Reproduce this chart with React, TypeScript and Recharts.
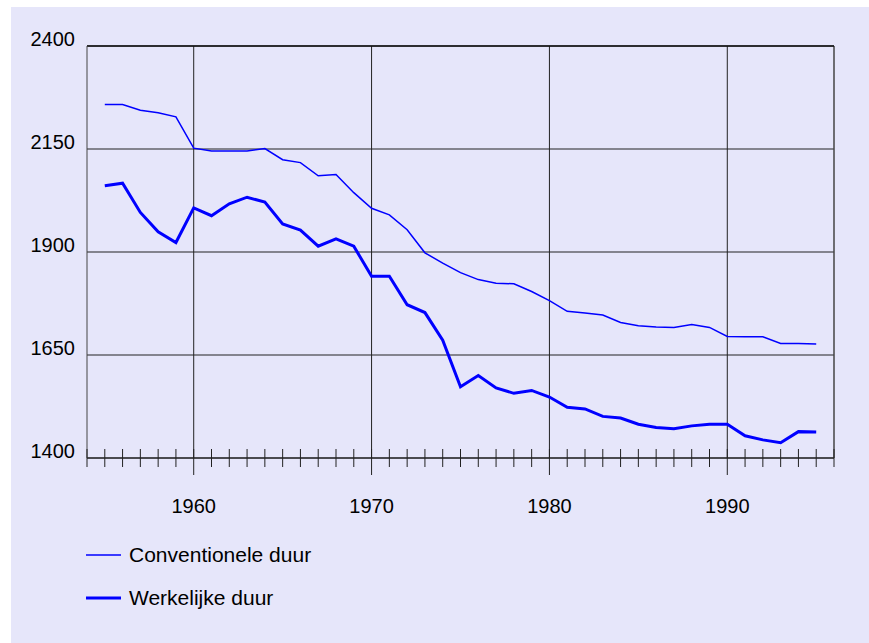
import React from 'react'
import {
  LineChart,
  Line,
  XAxis,
  YAxis,
  CartesianGrid,
  ReferenceLine,
} from 'recharts'

const years = [
  1955, 1956, 1957, 1958, 1959, 1960, 1961, 1962, 1963, 1964, 1965, 1966, 1967, 1968,
  1969, 1970, 1971, 1972, 1973, 1974, 1975, 1976, 1977, 1978, 1979, 1980, 1981, 1982,
  1983, 1984, 1985, 1986, 1987, 1988, 1989, 1990, 1991, 1992, 1993, 1994, 1995,
]

const conventionele = [
  2258, 2258, 2244, 2238, 2228, 2152, 2145, 2145, 2145, 2151, 2124, 2117, 2085, 2088,
  2044, 2006, 1990, 1954, 1898, 1873, 1850, 1833, 1824, 1823, 1804, 1782, 1756, 1752,
  1747, 1729, 1721, 1718, 1717, 1724, 1717, 1695, 1694, 1694, 1678, 1678, 1677,
]

const werkelijke = [
  2061, 2067, 1996, 1949, 1923, 2007, 1988, 2017, 2033, 2021, 1968, 1953, 1914, 1932,
  1914, 1841, 1841, 1772, 1753, 1686, 1573, 1600, 1570, 1557, 1564, 1548, 1523, 1519,
  1501, 1497, 1482, 1474, 1471, 1478, 1482, 1482, 1454, 1444, 1437, 1464, 1463,
]

const yTicks = [1400, 1650, 1900, 2150, 2400]
const decades = [1960, 1970, 1980, 1990]
const yearTicks = Array.from({ length: 43 }, (_, i) => 1954 + i)

const seriesNames = ['Conventionele duur', 'Werkelijke duur']

const data = years.map((year, i) => ({
  year,
  conventionele: conventionele[i],
  werkelijke: werkelijke[i],
}))

const FONT = '"Liberation Sans", Arial, sans-serif'
const BG = '#e6e6fa'

function YearTick({ x, y, payload }: any) {
  const isDecade = decades.includes(payload.value)
  return (
    <g>
      <line x1={x} x2={x} y1={y - 9} y2={isDecade ? y + 17 : y + 9} stroke="#222" strokeWidth={1} />
      {isDecade && (
        <text x={x} y={y + 55} textAnchor="middle" fontSize={20} fontFamily={FONT} fill="#000">
          {payload.value}
        </text>
      )}
    </g>
  )
}

function ValueTick({ x, y, payload }: any) {
  return (
    <text x={x} y={y} textAnchor="end" fontSize={20} fontFamily={FONT} fill="#000">
      {payload.value}
    </text>
  )
}

export default function App() {
  return (
    <div style={{ position: 'relative', width: 869, height: 643, background: '#fff', overflow: 'hidden' }}>
      <style>{'body{margin:0}'}</style>
      <div style={{ position: 'absolute', left: 11, top: 7, width: 858, height: 636, background: BG }}>
        <LineChart
          width={858}
          height={636}
          data={data}
          margin={{ top: 39, right: 35, bottom: 155, left: 0 }}
        >
          <CartesianGrid vertical={false} stroke="#222" strokeOpacity={1} />
          <XAxis
            dataKey="year"
            type="number"
            domain={[1954, 1996]}
            ticks={yearTicks}
            interval={0}
            height={30}
            tickSize={0}
            tickMargin={0}
            tickLine={false}
            axisLine={{ stroke: '#111' }}
            tick={<YearTick />}
          />
          <YAxis
            type="number"
            domain={[1400, 2400]}
            ticks={yTicks}
            width={76}
            tickSize={0}
            tickMargin={12}
            tickLine={false}
            axisLine={{ stroke: '#444' }}
            tick={<ValueTick />}
          />
          {decades.map((d) => (
            <ReferenceLine key={d} x={d} stroke="#222" strokeWidth={1} />
          ))}
          <ReferenceLine x={1996} stroke="#444" strokeWidth={1.5} />
          <ReferenceLine y={2400} stroke="#111" strokeWidth={1.5} />
          <Line
            type="linear"
            dataKey="conventionele"
            name={seriesNames[0]}
            stroke="#0000ff"
            strokeWidth={1.5}
            dot={false}
            isAnimationActive={false}
          />
          <Line
            type="linear"
            dataKey="werkelijke"
            name={seriesNames[1]}
            stroke="#0000ff"
            strokeWidth={3}
            dot={false}
            isAnimationActive={false}
          />
        </LineChart>
      </div>
      {seriesNames.map((name, i) => (
        <div
          key={name}
          style={{
            position: 'absolute',
            left: 86,
            top: 555 + i * 43 - 14,
            height: 28,
            display: 'flex',
            alignItems: 'center',
            fontFamily: FONT,
            fontSize: 21,
            color: '#000',
          }}
        >
          <svg width={36} height={28} style={{ display: 'block' }}>
            <line x1={0} x2={35} y1={14} y2={14} stroke="#0000ff" strokeWidth={i === 0 ? 1.5 : 3} />
          </svg>
          <span style={{ marginLeft: 7 }}>{name}</span>
        </div>
      ))}
    </div>
  )
}
